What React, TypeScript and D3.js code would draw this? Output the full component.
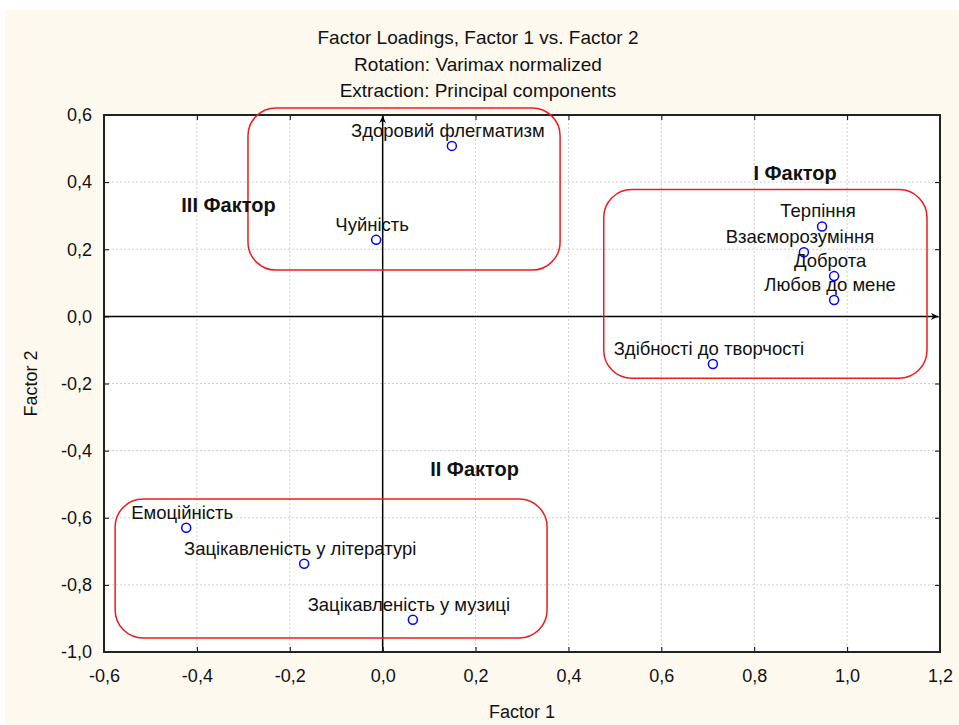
import React, { useRef, useEffect } from 'react';
import * as d3 from 'd3';

// variable names and loadings (Factor 1, Factor 2)
const names = [
  'Здоровий флегматизм',
  'Чуйність',
  'Терпіння',
  'Взаєморозуміння',
  'Доброта',
  'Любов до мене',
  'Здібності до творчості',
  'Емоційність',
  'Зацікавленість у літературі',
  'Зацікавленість у музиці',
];
const factor1 = [0.149, -0.014, 0.946, 0.907, 0.972, 0.972, 0.711, -0.423, -0.169, 0.065];
const factor2 = [0.508, 0.228, 0.268, 0.191, 0.12, 0.049, -0.142, -0.63, -0.737, -0.904];

const xTicks = [-0.6, -0.4, -0.2, 0, 0.2, 0.4, 0.6, 0.8, 1.0, 1.2];
const yTicks = [-1.0, -0.8, -0.6, -0.4, -0.2, 0, 0.2, 0.4, 0.6];

// groups drawn as rounded boxes: [x0, x1, y0, y1] in loading units
const groupNames = ['I Фактор', 'II Фактор', 'III Фактор'];
const groupLabelX = [0.888, 0.198, -0.332];
const groupLabelY = [0.405, -0.477, 0.31];
const boxX0 = [0.476, -0.576, -0.29];
const boxX1 = [1.172, 0.354, 0.382];
const boxY0 = [0.378, -0.544, 0.621];
const boxY1 = [-0.184, -0.958, 0.138];

const titles = [
  'Factor Loadings, Factor 1 vs. Factor 2',
  'Rotation: Varimax normalized',
  'Extraction: Principal components',
];

const W = 959;
const H = 725;
const margin = { top: 115, right: 19, bottom: 73, left: 104 };
const FONT = '"Liberation Sans", Arial, sans-serif';

function App() {
  const svgRef = useRef<SVGSVGElement>(null);

  useEffect(() => {
    const svg = d3.select(svgRef.current);
    svg.selectAll('*').remove();

    const iw = W - margin.left - margin.right;
    const ih = H - margin.top - margin.bottom;
    const x = d3.scaleLinear().domain([-0.6, 1.2]).range([0, iw]);
    const y = d3.scaleLinear().domain([-1.0, 0.6]).range([ih, 0]);
    const fmt = (d: number) => d.toFixed(1).replace('.', ',');

    svg.append('rect').attr('width', W).attr('height', H).attr('fill', '#fff');
    svg.append('rect').attr('x', 5).attr('y', 10).attr('width', W - 5).attr('height', H - 10).attr('fill', '#fdf9ef');

    const defs = svg.append('defs');
    defs
      .append('marker')
      .attr('id', 'arrow')
      .attr('viewBox', '0 0 10 10')
      .attr('refX', 10)
      .attr('refY', 5)
      .attr('markerWidth', 10)
      .attr('markerHeight', 7)
      .attr('markerUnits', 'userSpaceOnUse')
      .attr('orient', 'auto')
      .append('path')
      .attr('d', 'M0,0 L10,5 L0,10 L3,5 z')
      .attr('fill', '#000');

    titles.forEach((t, i) => {
      svg
        .append('text')
        .attr('x', 478)
        .attr('y', 44 + i * 26.5)
        .attr('text-anchor', 'middle')
        .attr('font-family', FONT)
        .attr('font-size', 19)
        .attr('fill', '#111')
        .text(t);
    });

    const g = svg.append('g').attr('transform', `translate(${margin.left},${margin.top})`);
    g.append('rect').attr('width', iw).attr('height', ih).attr('fill', '#fff');

    // grid
    g.selectAll('.vgrid')
      .data(xTicks)
      .join('line')
      .attr('x1', (d) => x(d))
      .attr('x2', (d) => x(d))
      .attr('y1', 0)
      .attr('y2', ih)
      .attr('stroke', '#cfcfcf')
      .attr('stroke-dasharray', '2,2');
    g.selectAll('.hgrid')
      .data(yTicks)
      .join('line')
      .attr('x1', 0)
      .attr('x2', iw)
      .attr('y1', (d) => y(d))
      .attr('y2', (d) => y(d))
      .attr('stroke', '#cfcfcf')
      .attr('stroke-dasharray', '2,2');

    // axes with inward ticks
    const styleAxis = (sel: any) => {
      sel.select('.domain').remove();
      sel.selectAll('.tick line').attr('stroke', '#000').attr('stroke-width', 1);
      sel.selectAll('.tick text').attr('font-family', FONT).attr('font-size', 18).attr('fill', '#111');
    };
    g.append('g')
      .attr('transform', `translate(0,${ih})`)
      .call(d3.axisBottom(x).tickValues(xTicks).tickFormat(fmt as any).tickSize(-5).tickPadding(17))
      .call(styleAxis);
    g.append('g')
      .call(d3.axisLeft(y).tickValues(yTicks).tickFormat(fmt as any).tickSize(-5).tickPadding(12))
      .call(styleAxis);
    g.append('g')
      .call(d3.axisTop(x).tickValues(xTicks).tickFormat(() => '').tickSize(-5))
      .call(styleAxis);
    g.append('g')
      .attr('transform', `translate(${iw},0)`)
      .call(d3.axisRight(y).tickValues(yTicks).tickFormat(() => '').tickSize(-5))
      .call(styleAxis);

    // frame
    g.append('rect')
      .attr('width', iw)
      .attr('height', ih)
      .attr('fill', 'none')
      .attr('stroke', '#222')
      .attr('stroke-width', 2);

    // zero axes with arrows
    g.append('line')
      .attr('x1', 0)
      .attr('x2', x(1.2) - 2)
      .attr('y1', y(0))
      .attr('y2', y(0))
      .attr('stroke', '#000')
      .attr('stroke-width', 1.5)
      .attr('marker-end', 'url(#arrow)');
    g.append('line')
      .attr('x1', x(0))
      .attr('x2', x(0))
      .attr('y1', ih)
      .attr('y2', 1)
      .attr('stroke', '#000')
      .attr('stroke-width', 1.5)
      .attr('marker-end', 'url(#arrow)');

    // group boxes
    g.selectAll('.box')
      .data(groupNames)
      .join('rect')
      .attr('x', (_, i) => x(boxX0[i]))
      .attr('y', (_, i) => y(boxY0[i]))
      .attr('width', (_, i) => x(boxX1[i]) - x(boxX0[i]))
      .attr('height', (_, i) => y(boxY1[i]) - y(boxY0[i]))
      .attr('rx', 28)
      .attr('ry', 28)
      .attr('fill', 'none')
      .attr('stroke', '#ee1c1c')
      .attr('stroke-width', 1.5);

    g.selectAll('.glabel')
      .data(groupNames)
      .join('text')
      .attr('x', (_, i) => x(groupLabelX[i]))
      .attr('y', (_, i) => y(groupLabelY[i]))
      .attr('text-anchor', 'middle')
      .attr('font-family', FONT)
      .attr('font-size', 20)
      .attr('font-weight', 'bold')
      .attr('fill', '#111')
      .text((d) => d);

    // points and labels
    g.selectAll('.pt')
      .data(names)
      .join('circle')
      .attr('cx', (_, i) => x(factor1[i]))
      .attr('cy', (_, i) => y(factor2[i]))
      .attr('r', 4.5)
      .attr('fill', '#fff')
      .attr('stroke', '#0000ff')
      .attr('stroke-width', 1.5);
    g.selectAll('.lbl')
      .data(names)
      .join('text')
      .attr('x', (_, i) => x(factor1[i]) - 4)
      .attr('y', (_, i) => y(factor2[i]) - 9)
      .attr('text-anchor', 'middle')
      .attr('font-family', FONT)
      .attr('font-size', 18.5)
      .attr('fill', '#111')
      .text((d) => d);

    // axis titles
    svg
      .append('text')
      .attr('x', margin.left + x(0.3))
      .attr('y', 718)
      .attr('text-anchor', 'middle')
      .attr('font-family', FONT)
      .attr('font-size', 18)
      .attr('fill', '#111')
      .text('Factor 1');
    svg
      .append('text')
      .attr('transform', `translate(37,${margin.top + y(-0.2)}) rotate(-90)`)
      .attr('text-anchor', 'middle')
      .attr('font-family', FONT)
      .attr('font-size', 18)
      .attr('fill', '#111')
      .text('Factor 2');
  }, []);

  return (
    <div style={{ position: 'absolute', left: 0, top: 0 }}>
      <svg ref={svgRef} width={W} height={H} style={{ display: 'block' }} />
    </div>
  );
}

export default App;
